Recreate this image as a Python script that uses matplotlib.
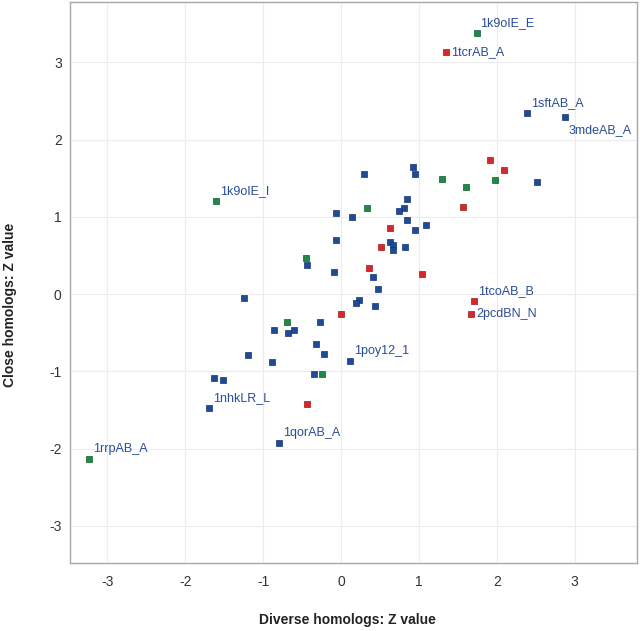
import matplotlib
matplotlib.use("Agg")
import matplotlib.pyplot as plt

plt.rcParams['font.family'] = ['Liberation Sans', 'DejaVu Sans']
plt.rcParams['axes.unicode_minus'] = False

# Blue points (diverse Z, close Z)
blue_x = [2.39, 2.87, 2.52, 0.92, 0.95, 0.30, -0.06, 0.14, 0.85, 0.81, 0.75, 0.85,
          0.95, 1.09, -0.06, 0.63, 0.67, 0.67, 0.82, -0.09, 0.41, 0.48, 0.23, 0.19,
          0.44, 0.12, -0.22, -1.24, -0.27, -0.86, -0.68, -0.60, -0.32, -1.20, -0.89,
          -0.35, -1.63, -1.52, -1.69, -0.80, -0.44]
blue_y = [2.34, 2.29, 1.45, 1.65, 1.55, 1.55, 1.05, 1.00, 1.23, 1.12, 1.07, 0.96,
          0.83, 0.90, 0.70, 0.67, 0.64, 0.57, 0.61, 0.28, 0.22, 0.06, -0.08, -0.12,
          -0.15, -0.86, -0.77, -0.05, -0.36, -0.47, -0.50, -0.46, -0.64, -0.79, -0.88,
          -1.04, -1.08, -1.11, -1.48, -1.93, 0.37]

# Red points
red_x = [1.35, 1.91, 2.09, 1.56, 0.63, 0.51, 0.36, 1.04, 0.00, 1.71, 1.67, -0.44]
red_y = [3.13, 1.74, 1.61, 1.13, 0.85, 0.61, 0.34, 0.26, -0.26, -0.09, -0.26, -1.42]

# Green points
green_x = [1.74, 1.98, 1.29, 1.60, 0.33, -1.60, -0.45, -0.69, -0.25, -3.24]
green_y = [3.38, 1.47, 1.49, 1.38, 1.11, 1.21, 0.47, -0.36, -1.04, -2.14]

# Labelled points
label_names = ['1k9oIE_E', '1tcrAB_A', '1sftAB_A', '3mdeAB_A', '1k9oIE_I',
               '1tcoAB_B', '2pcdBN_N', '1poy12_1', '1nhkLR_L', '1qorAB_A', '1rrpAB_A']
label_x = [1.74, 1.35, 2.39, 2.87, -1.60, 1.71, 1.67, 0.12, -1.69, -0.80, -3.24]
label_y = [3.38, 3.13, 2.34, 2.29, 1.21, -0.09, -0.26, -0.86, -1.48, -1.93, -2.14]
label_pos = ['above', 'right', 'above', 'below', 'above', 'above', 'right',
             'above', 'above', 'above', 'above']

ticks = [-3, -2, -1, 0, 1, 2, 3]

fig = plt.figure(figsize=(6.4, 6.31), dpi=100)
ax = fig.add_axes([70/640, 1-563/631, (637-70)/640, (563-2)/631])

ax.set_xlim(-3.48, 3.80)
ax.set_ylim(-3.48, 3.78)
ax.set_xticks(ticks)
ax.set_yticks(ticks)
ax.set_xticklabels([str(t) for t in ticks])
ax.set_yticklabels([str(t) for t in ticks])
ax.grid(True, color='#ececec', linewidth=0.8)
ax.set_axisbelow(True)
ax.tick_params(axis='both', length=0, labelsize=10, colors='#333333')
ax.tick_params(axis='x', pad=9)
ax.tick_params(axis='y', pad=6)
for s in ax.spines.values():
    s.set_color('#a8a8a8')
    s.set_linewidth(1.0)

ms = 22
ax.scatter(blue_x, blue_y, marker='s', s=ms, c='#1f4a98', edgecolors='#16346e', linewidths=0.5, zorder=3)
ax.scatter(red_x, red_y, marker='s', s=ms, c='#d9262b', edgecolors='#9a1a1e', linewidths=0.5, zorder=3)
ax.scatter(green_x, green_y, marker='s', s=ms, c='#1e8a45', edgecolors='#125a2c', linewidths=0.5, zorder=3)

for name, x, y, pos in zip(label_names, label_x, label_y, label_pos):
    if pos == 'above':
        off = (4, 10)
    elif pos == 'below':
        off = (4, -13)
    else:
        off = (5, 0)
    ax.annotate(name, (x, y), xytext=off, textcoords='offset pixels',
                ha='left', va='center', fontsize=9, color='#2a4d96')

fig.text(347/640, 1-620/631, 'Diverse homologs: Z value', ha='center', va='center',
         fontsize=10, fontweight='bold', color='#222222')
fig.text(10/640, 1-305/631, 'Close homologs: Z value', ha='center', va='center',
         rotation=90, fontsize=10, fontweight='bold', color='#222222')

fig.savefig('out.png', dpi=100)
